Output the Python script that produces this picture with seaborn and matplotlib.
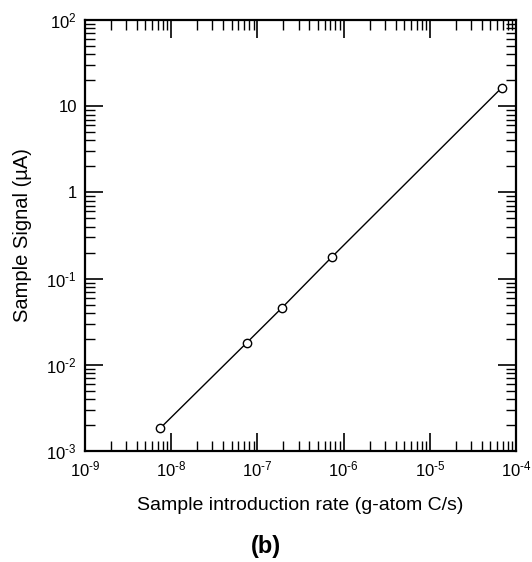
import numpy as np
import pandas as pd
import matplotlib
matplotlib.use("Agg")
import matplotlib.pyplot as plt
from matplotlib.ticker import LogLocator, FuncFormatter, NullFormatter
import seaborn as sns

# Data
rate = [7.4e-9, 7.5e-8, 1.93e-7, 7.3e-7, 6.8e-5]        # g-atom C/s
signal = [1.83e-3, 1.8e-2, 4.6e-2, 0.178, 16.3]         # µA

sns.set_theme(style="ticks")
plt.rcParams['font.family'] = ['Liberation Sans', 'DejaVu Sans']
plt.rcParams['mathtext.fontset'] = 'custom'
plt.rcParams['mathtext.rm'] = 'Liberation Sans'
plt.rcParams['mathtext.it'] = 'Liberation Sans:italic'
plt.rcParams['mathtext.bf'] = 'Liberation Sans:bold'
plt.rcParams['axes.unicode_minus'] = False
plt.rcParams['text.color'] = 'black'
plt.rcParams['axes.labelcolor'] = 'black'

fig = plt.figure(figsize=(5.32, 5.62), dpi=100)
ax = fig.add_axes([0.160, 0.1975, 0.810, 0.767])

df = pd.DataFrame({"rate": rate, "signal": signal})
sns.lineplot(data=df, x="rate", y="signal", ax=ax, color="black", lw=1.0,
             marker="o", markersize=6, markerfacecolor="white",
             markeredgecolor="black", markeredgewidth=1.0)

ax.set_xscale("log")
ax.set_yscale("log")
ax.set_xlim(1e-9, 1e-4)
ax.set_ylim(1e-3, 1e2)

def fmt(v, pos):
    e = int(round(np.log10(v)))
    if e == 0:
        return "1"
    if e == 1:
        return "10"
    sup = ("\u2010%d" % -e) if e < 0 else ("%d" % e)
    return r"10$^{\mathregular{%s}}$" % sup

for axis in (ax.xaxis, ax.yaxis):
    axis.set_major_locator(LogLocator(base=10, numticks=20))
    axis.set_minor_locator(LogLocator(base=10, subs=np.arange(2, 10), numticks=20))
    axis.set_major_formatter(FuncFormatter(fmt))
    axis.set_minor_formatter(NullFormatter())

ax.tick_params(which="major", direction="in", length=13, width=1.2,
               top=True, right=True, labelsize=12, pad=6, color="black",
               labelcolor="black")
ax.tick_params(which="minor", direction="in", length=7, width=1.0,
               top=True, right=True, color="black")
for s in ax.spines.values():
    s.set_linewidth(1.6)
    s.set_color("black")

ax.set_xlabel("Sample introduction rate (g-atom C/s)", fontsize=14, labelpad=13, color="black")
ax.set_ylabel("Sample Signal (\u00b5A)", fontsize=14.5, labelpad=10.5, color="black")
ax.grid(False)

fig.text(0.5, 0.027, "(b)", ha="center", va="center", fontsize=17,
         fontweight="bold", color="black")

fig.savefig("out.png", dpi=100)
